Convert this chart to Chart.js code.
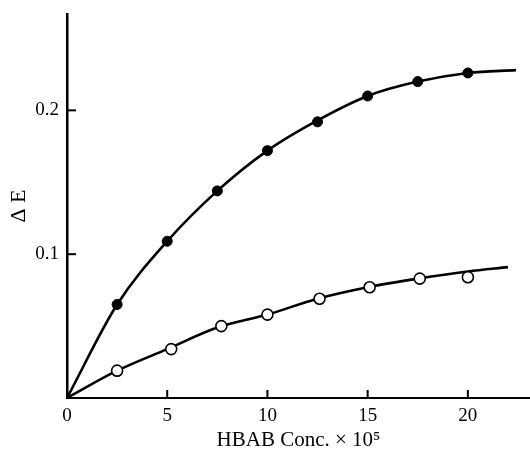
<!DOCTYPE html>
<html><head><meta charset="utf-8">
<script src="https://cdn.jsdelivr.net/npm/chart.js@4.4.1/dist/chart.umd.min.js"></script>
<style>html,body{margin:0;padding:0;background:#fff}canvas{display:block}</style>
</head><body>
<canvas id="c" width="530" height="456"></canvas>
<script>
// ---- data ----
const pointX = [2.5, 5, 7.5, 10, 12.5, 15, 17.5, 20];
const filledY = [0.065, 0.109, 0.144, 0.172, 0.192, 0.210, 0.220, 0.226];
const openX = [2.5, 5.2, 7.7, 10, 12.6, 15.1, 17.6, 20];
const openY = [0.019, 0.034, 0.050, 0.058, 0.069, 0.077, 0.083, 0.084];
const upperCurveX = [0, 2.5, 5, 7.5, 10, 12.5, 15, 17.5, 20, 22.4];
const upperCurveY = [0, 0.065, 0.109, 0.144, 0.172, 0.193, 0.210, 0.220, 0.226, 0.228];
const lowerCurveX = [0, 2.5, 5, 7.5, 10, 12.5, 15, 17.5, 20, 22];
const lowerCurveY = [0, 0.019, 0.034, 0.049, 0.058, 0.069, 0.077, 0.083, 0.088, 0.091];
const xTicks = [0, 5, 10, 15, 20];
const yTicks = [0.1, 0.2];
const xTitle = 'HBAB Conc. × 10⁵';
const yTitle = 'Δ E';

const pts = (xs, ys) => xs.map((x, i) => ({x: x, y: ys[i]}));
const FONT = 'Liberation Serif, Times New Roman, serif';

const tickMarks = {
  id: 'tickMarks',
  afterDraw(chart) {
    const ctx = chart.ctx, xs = chart.scales.x, ys = chart.scales.y;
    const a = chart.chartArea;
    ctx.save();
    ctx.strokeStyle = '#000';
    ctx.lineWidth = 2;
    xTicks.forEach(v => {
      if (v === 0) return;
      const px = xs.getPixelForValue(v);
      ctx.beginPath(); ctx.moveTo(px, a.bottom); ctx.lineTo(px, a.bottom - 8); ctx.stroke();
    });
    yTicks.forEach(v => {
      const py = ys.getPixelForValue(v);
      ctx.beginPath(); ctx.moveTo(a.left, py); ctx.lineTo(a.left + 9, py); ctx.stroke();
    });
    ctx.restore();
  }
};

new Chart(document.getElementById('c'), {
  type: 'scatter',
  data: {
    datasets: [
      {data: pts(pointX, filledY), pointRadius: 5, pointBackgroundColor: '#000', pointBorderColor: '#000', pointBorderWidth: 1, showLine: false, order: 0},
      {data: pts(openX, openY), pointRadius: 5.5, pointBackgroundColor: '#fff', pointBorderColor: '#000', pointBorderWidth: 1.6, showLine: false, order: 0},
      {data: pts(upperCurveX, upperCurveY), showLine: true, pointRadius: 0, borderColor: '#000', borderWidth: 2.6, cubicInterpolationMode: 'monotone', fill: false, order: 1},
      {data: pts(lowerCurveX, lowerCurveY), showLine: true, pointRadius: 0, borderColor: '#000', borderWidth: 2.6, cubicInterpolationMode: 'monotone', fill: false, order: 1}
    ]
  },
  options: {
    responsive: false,
    animation: false,
    layout: {autoPadding: false, padding: {top: 14, left: 0, right: 0, bottom: 0}},
    plugins: {legend: {display: false}, tooltip: {enabled: false}},
    scales: {
      x: {
        type: 'linear', min: 0, max: 23.1,
        afterBuildTicks: s => { s.ticks = xTicks.map(v => ({value: v})); },
        afterFit: s => { s.height = 58; s.paddingLeft = 0; s.paddingRight = 0; },
        grid: {display: false, drawTicks: false},
        border: {display: true, color: '#000', width: 2},
        ticks: {color: '#000', padding: 7, maxRotation: 0, autoSkip: false, font: {family: FONT, size: 19}},
        title: {display: true, text: xTitle, color: '#000', font: {family: FONT, size: 21}, padding: {top: 0, bottom: 3}}
      },
      y: {
        type: 'linear', min: 0, max: 0.267,
        afterBuildTicks: s => { s.ticks = yTicks.map(v => ({value: v})); },
        afterFit: s => { s.width = 67; s.paddingTop = 0; s.paddingBottom = 0; },
        grid: {display: false, drawTicks: false},
        border: {display: true, color: '#000', width: 2.5},
        ticks: {color: '#000', padding: 8, autoSkip: false, font: {family: FONT, size: 19}, callback: v => v.toFixed(1)},
        title: {display: true, text: yTitle, color: '#000', font: {family: FONT, size: 22}, padding: {top: 6, bottom: 0}}
      }
    }
  },
  plugins: [tickMarks]
});
</script>
</body></html>
